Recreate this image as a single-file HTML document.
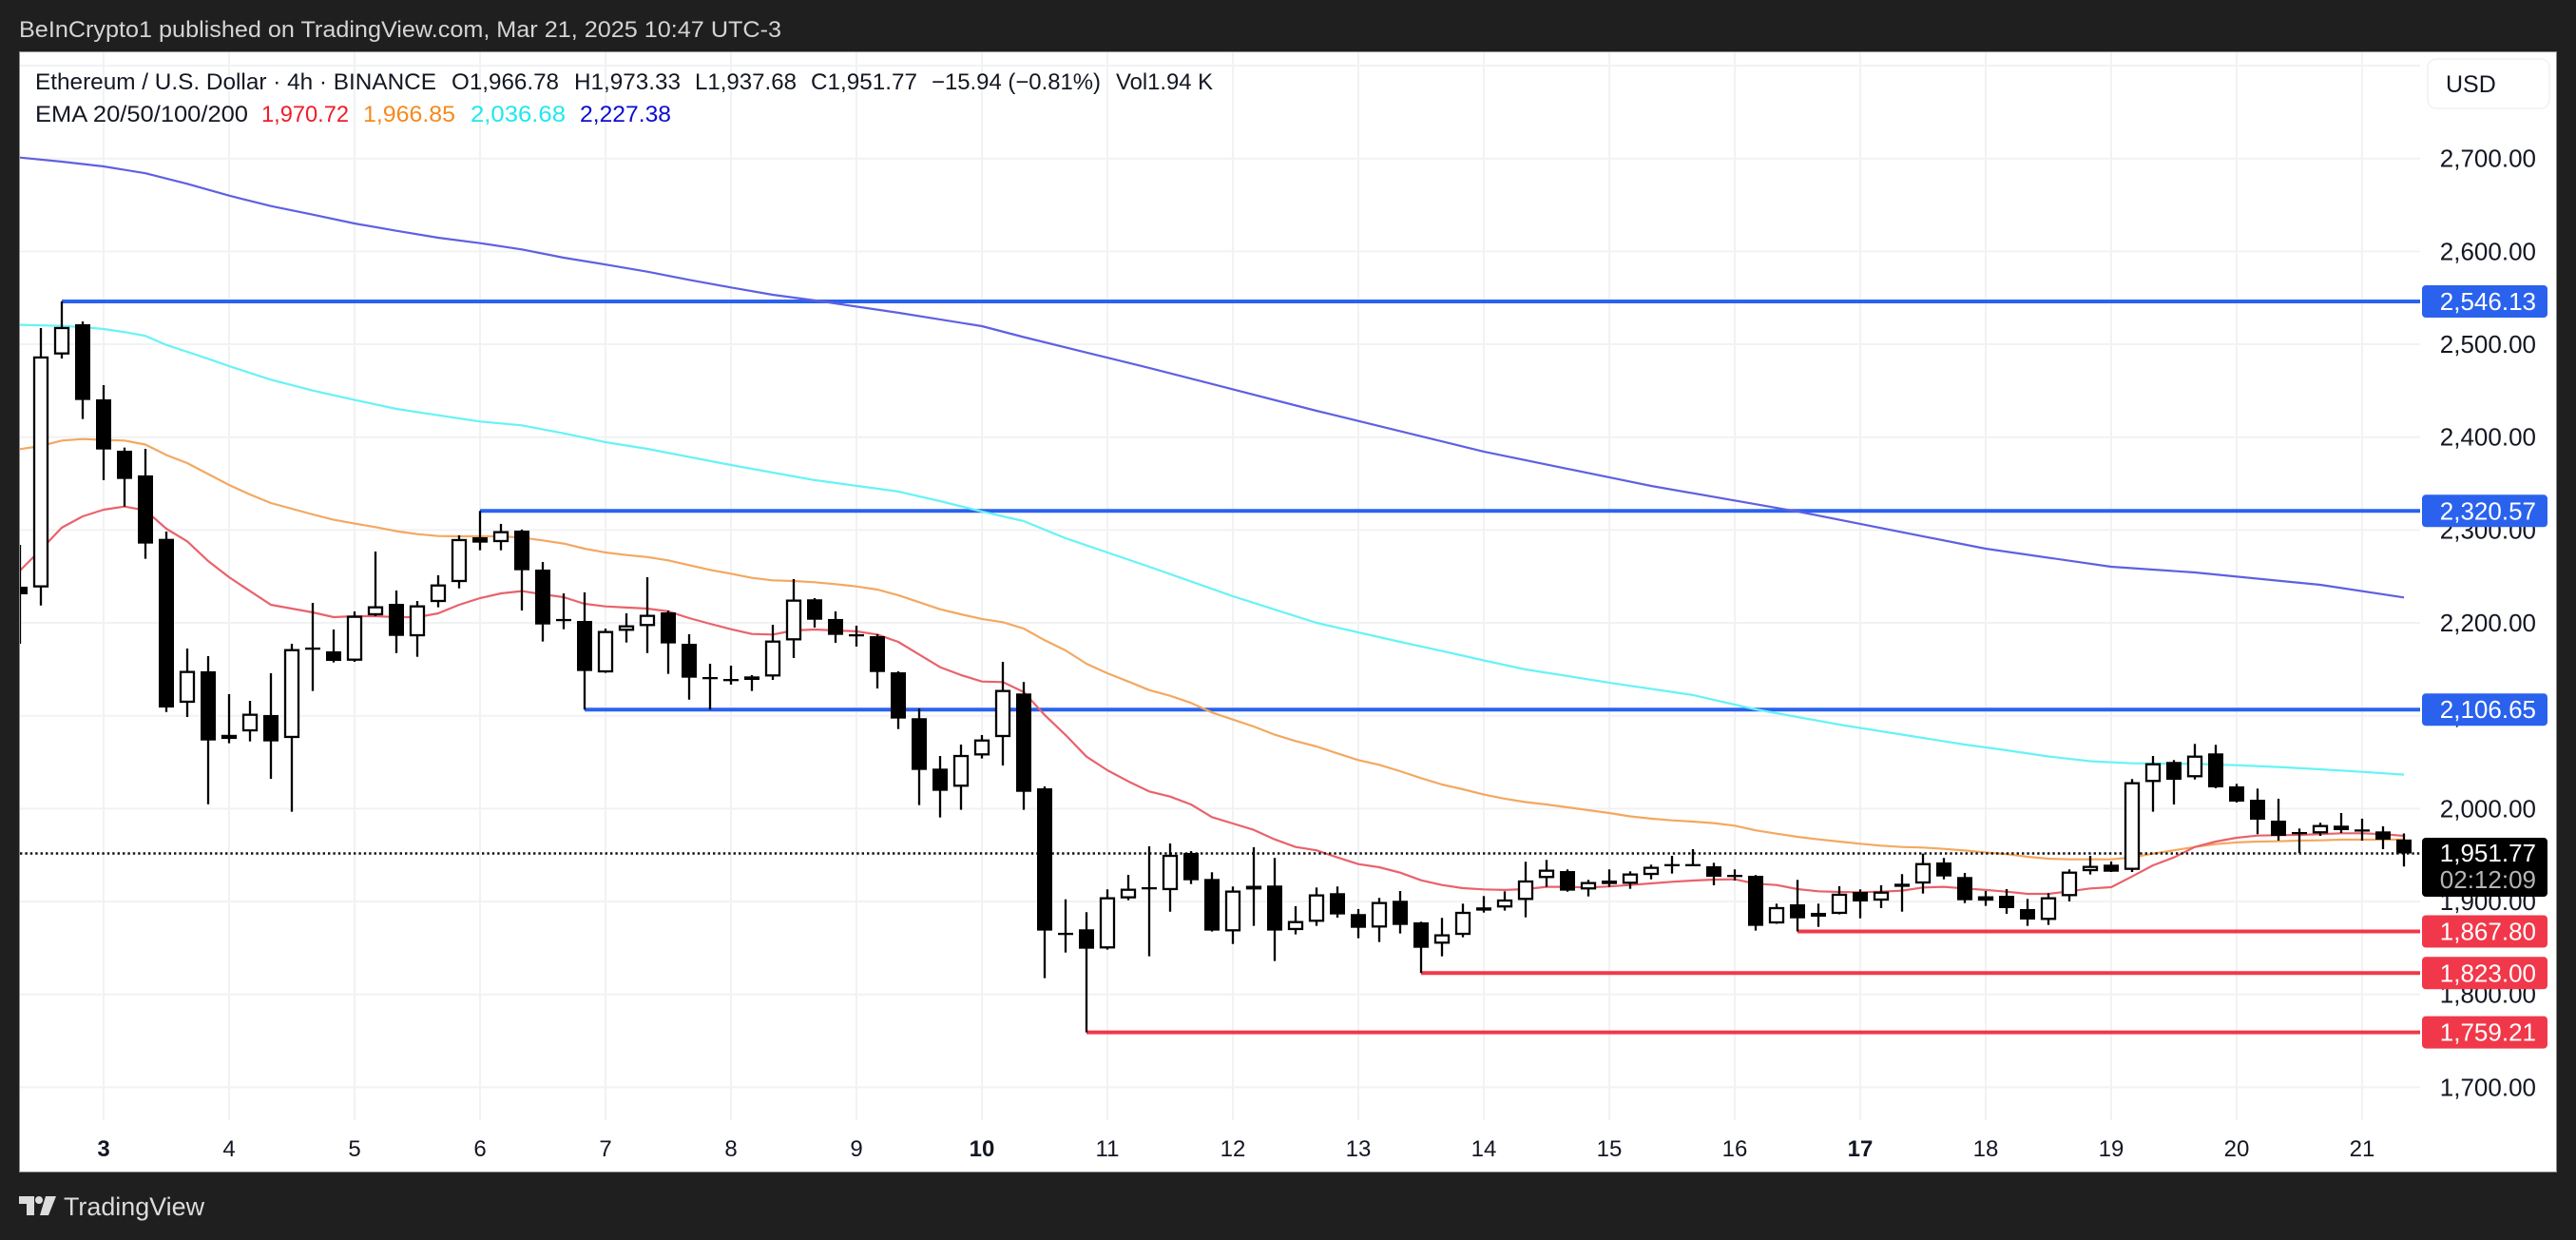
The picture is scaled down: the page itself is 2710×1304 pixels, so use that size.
<!DOCTYPE html>
<html lang="en">
<head>
<meta charset="utf-8">
<title>Ethereum / U.S. Dollar 4h chart</title>
<style>
  html,body{margin:0;padding:0;background:#1f1f1f;width:2710px;height:1304px;overflow:hidden}
  svg{display:block}
  text{font-family:"Liberation Sans",sans-serif}
</style>
</head>
<body>
<svg id="chart" xmlns="http://www.w3.org/2000/svg" width="2710" height="1304" viewBox="0 0 2710 1304">
  <defs>
    <clipPath id="plot-clip"><rect x="21" y="55" width="2525" height="1123"/></clipPath>
  </defs>
  <rect x="0" y="0" width="2710" height="1304" fill="#1f1f1f"/>
  <rect x="20.5" y="54.5" width="2669" height="1178" fill="#ffffff" stroke="#8a8a8a" stroke-width="1"/>

  <text x="20" y="39" font-size="24" fill="#d4d4d4" textLength="802" lengthAdjust="spacingAndGlyphs">BeInCrypto1 published on TradingView.com, Mar 21, 2025 10:47 UTC-3</text>

  <g id="grid"></g>
  <g id="levels"></g>
  <g id="emas" clip-path="url(#plot-clip)"></g>
  <line x1="21" x2="2546" y1="897.5" y2="897.5" stroke="#111" stroke-width="2.4" stroke-dasharray="2.4 3"/>
  <g id="candles" clip-path="url(#plot-clip)"></g>

  <g font-size="24" fill="#131722">
    <text x="37" y="94" textLength="422" lengthAdjust="spacingAndGlyphs">Ethereum / U.S. Dollar · 4h · BINANCE</text>
    <text x="475" y="94" textLength="113" lengthAdjust="spacingAndGlyphs">O1,966.78</text>
    <text x="604" y="94" textLength="112" lengthAdjust="spacingAndGlyphs">H1,973.33</text>
    <text x="731" y="94" textLength="107" lengthAdjust="spacingAndGlyphs">L1,937.68</text>
    <text x="853" y="94" textLength="112" lengthAdjust="spacingAndGlyphs">C1,951.77</text>
    <text x="980" y="94" textLength="178" lengthAdjust="spacingAndGlyphs">−15.94 (−0.81%)</text>
    <text x="1174" y="94" textLength="102" lengthAdjust="spacingAndGlyphs">Vol1.94 K</text>
    <text x="37" y="128" textLength="224" lengthAdjust="spacingAndGlyphs">EMA 20/50/100/200</text>
    <text x="275" y="128" fill="#f01c28" textLength="92" lengthAdjust="spacingAndGlyphs">1,970.72</text>
    <text x="382" y="128" fill="#f58a1f" textLength="97" lengthAdjust="spacingAndGlyphs">1,966.85</text>
    <text x="495" y="128" fill="#1fe8ee" textLength="100" lengthAdjust="spacingAndGlyphs">2,036.68</text>
    <text x="610" y="128" fill="#0c0cd0" textLength="96" lengthAdjust="spacingAndGlyphs">2,227.38</text>
  </g>

  <g id="y-axis"></g>
  <g id="x-axis"></g>
  <g id="tags"></g>

  <g>
    <rect x="2548" y="881" width="132" height="62" rx="4" fill="#000"/>
    <text x="2668" y="906" font-size="26" fill="#fff" text-anchor="end">1,951.77</text>
    <text x="2668" y="934" font-size="26" fill="#b5b5b5" text-anchor="end">02:12:09</text>
  </g>

  <g>
    <rect x="2554" y="62" width="128" height="52" rx="9" fill="#fff" stroke="#f0f1f4" stroke-width="1.5"/>
    <text x="2573" y="97" font-size="25" fill="#131722">USD</text>
  </g>

  <g fill="#dcdcdc">
    <polygon points="20,1258 36,1258 36,1278 28,1278 28,1266 20,1266"/>
    <circle cx="41" cy="1262" r="4"/>
    <polygon points="48,1258 59,1258 51,1278 42,1278"/>
    <text x="67" y="1278" font-size="27" textLength="148" lengthAdjust="spacingAndGlyphs">TradingView</text>
  </g>
</svg>

<script>
// Candle data (4h bars, left to right)
const opens = [
2239,2238.3,2489.1,2521.6,2440.7,2385.4,2358.8,2290.5,2114.1,2147.9,
2075.2,2083.3,2100.8,2076.2,2172.7,2169.4,2159.4,2208.3,2220.5,2185.7,
2222.6,2244.1,2292.2,2287.1,2299.4,2257.4,2203.3,2202.1,2146.8,2191.6,
2196.7,2211.3,2177.5,2140.8,2138.8,2142.4,2142.4,2181.3,2225.4,2204.2,
2186.9,2185.7,2146.8,2097.4,2043.1,2023.7,2057.4,2077.2,2124,2021.9,
1865.5,1870.1,1849.6,1903.5,1914.6,1912.4,1952.3,1924.3,1868,1913.1,
1917.2,1869.4,1878.3,1909,1886.5,1872.1,1900.8,1877.6,1854.7,1864.2,
1893.7,1893.7,1901.8,1925.4,1932.8,1913.1,1922.6,1919.2,1928.7,1939.5,
1939.5,1938,1927.9,1927.7,1876.5,1897,1887.8,1886.8,1910.3,1901.1,
1919.2,1919.5,1942.1,1926.4,1901.1,1906.2,1891.9,1880.3,1905.9,1932.8,
1939.7,1934.2,2028.8,2050.3,2033.9,2059.5,2024,2009.6,1987.1,1974,
1973.5,1981.7,1976.8,1975.5,1966.78];
const highs = [
2284,2517.5,2546.13,2524.6,2456,2388.8,2387.4,2298.4,2172.4,2164.2,
2123.3,2116.1,2145.8,2177.5,2221.6,2192.9,2212.4,2276.9,2234.9,2223.6,
2251.3,2294.3,2320.57,2306.6,2300.5,2265.6,2231.8,2232.8,2193.9,2210.3,
2249.2,2213.4,2187.8,2156,2154,2143.8,2198,2247.2,2226.7,2212.4,
2197,2187.8,2147.9,2107.9,2056.7,2069,2079.3,2158.1,2136.3,2024,
1902.4,1888.5,1913.1,1928.7,1959.5,1962.5,1954.3,1931.5,1916.2,1958.4,
1946.9,1895,1915.1,1916.2,1891.9,1903.9,1911.3,1878.3,1882.4,1897.7,
1905.9,1911,1942.8,1944.8,1934.6,1923.3,1934.6,1932.5,1939.7,1949.2,
1956.4,1941.7,1934.6,1928.5,1897.7,1923.3,1897.7,1916.5,1913.1,1917.5,
1929.5,1951.6,1946.9,1930.8,1911.3,1913.4,1902.8,1909,1934.6,1949.2,
1943.1,2031.9,2056.7,2052.3,2069.7,2068.7,2026.7,2021.6,2010.7,1978.6,
1984.8,1995.3,1989.2,1981,1973.33];
const lows = [
2177.5,2218.8,2484.7,2419.5,2353.7,2325.3,2269,2104.1,2098.7,2004.8,
2070.4,2072.4,2032.2,1996.7,2126.7,2157.4,2158.1,2207.2,2167.6,2163.5,
2216.8,2237.2,2278.2,2278.2,2213.4,2179.9,2193.2,2106.65,2146.2,2178.9,
2167.6,2145.1,2117.4,2106.65,2133.5,2126.7,2138.6,2162.2,2195,2178.6,
2174.5,2129.4,2085.7,2003.8,1990.5,1998.7,2054,2046.5,1998.7,1817.5,
1845.1,1759.21,1848.2,1901.4,1841,1889.1,1918.8,1867.7,1854.3,1873.8,
1835.9,1864.6,1873.8,1882.7,1860.5,1856.4,1865.6,1823,1841,1861.5,
1888.1,1890.2,1883,1915.8,1910.6,1905.5,1915.8,1913.7,1923.9,1930.1,
1939,1917.5,1922.6,1868.7,1876,1867.8,1872.7,1886.2,1881.9,1892.9,
1889.1,1908.6,1923.9,1898.3,1895.3,1886.8,1873.8,1874.8,1900.1,1929.1,
1931.8,1931.8,1996.7,2004.5,2031.4,2021.9,2006.6,1972.5,1965.6,1952.3,
1970.7,1973.8,1965.6,1956.4,1937.68];
const closes = [
2230.8,2486.8,2518.5,2440,2386.7,2355,2285.4,2108.9,2148.2,2073.4,
2079.3,2102.1,2072.4,2171.7,2172.2,2159.1,2207.6,2217.8,2186,2218.8,
2241.3,2290.2,2286.4,2298.7,2256.7,2198.3,2203.1,2148.2,2191.2,2197.3,
2208.6,2177.9,2141,2140.6,2138.4,2138.6,2180.9,2225,2203.4,2187.1,
2186.7,2147.1,2097,2041.7,2019.2,2057.7,2074.4,2127.7,2018.1,1868.7,
1865.1,1849.2,1904.5,1913.7,1914.2,1950.2,1922.9,1868.7,1911.7,1916.8,
1868.7,1878.9,1907.6,1886.1,1871.7,1899.4,1874.8,1850.2,1864.6,1888.8,
1890.2,1902.1,1922.6,1934.2,1911.7,1920.9,1918.8,1930.1,1937.3,1939.1,
1939.1,1926.7,1927.5,1873.8,1893.9,1881.9,1883.7,1908.3,1900.1,1910.6,
1915.8,1941.3,1927,1901.4,1905.5,1892.9,1880.6,1904.5,1932.1,1938.3,
1932.1,2028.4,2048.8,2031.1,2057,2022.9,2007.6,1988.1,1970.7,1973.6,
1982.3,1976.9,1976.4,1966.6,1951.77];

// EMA series sampled per candle
const ema20 = [
2256.4,2278.9,2302.5,2314.7,2321.9,2325.3,2321.2,2301.4,2287.8,2266.6,
2249.2,2234.2,2219.5,2215.4,2211.3,2206.2,2207.2,2207.2,2206.2,2206.2,
2210.3,2219.5,2226.7,2231.8,2234.2,2230.8,2227.7,2220.5,2217.8,2216.5,
2215.4,2212.4,2205.2,2199,2193.2,2188.1,2187.5,2191.9,2192.9,2191.9,
2190.9,2187.5,2179.6,2166,2152.3,2143.8,2136.9,2136.3,2125.6,2100.8,
2079.3,2056,2041.4,2029.4,2018.5,2013,2004.5,1990.9,1984,1977.2,
1966.9,1958.7,1955.1,1947.5,1940.3,1936.9,1931.1,1922.9,1917.8,1914.4,
1913.1,1912.4,1913.4,1915.8,1915.8,1915.1,1916.2,1917.8,1919.5,1921.3,
1922.6,1923.6,1923.9,1919.2,1917.8,1913.4,1911,1910.3,1910,1910.6,
1911.7,1915.1,1915.8,1914.1,1912.4,1910.6,1908.3,1908.3,1911,1914.1,
1915.4,1927,1939,1947.5,1958.7,1964.6,1968.7,1971,1971.4,1971.7,
1972.5,1973.5,1973.5,1972.5,1970.72];
const ema50 = [
2387.1,2390.5,2396.3,2398,2397,2396.3,2392,2380.8,2372.1,2360.3,
2348.5,2338.3,2329.1,2322.9,2316.8,2311,2306.9,2303.2,2298.7,2295.6,
2293.5,2293.2,2293.2,2293.2,2291.9,2288.8,2285.4,2279.9,2275.8,2273.1,
2270.9,2267.3,2262.2,2257.1,2253,2248.5,2245.8,2245.1,2243.8,2241.7,
2239.3,2235.9,2229.8,2222.3,2214.7,2209.3,2204.2,2200.8,2193.9,2181.3,
2170.4,2156,2145.8,2136.9,2127.7,2121.5,2113.8,2103.5,2095.9,2088.5,
2079.6,2072.8,2067,2059.5,2052.3,2047.2,2040.3,2032.9,2026,2020.9,
2015.1,2010.7,2007.1,2004.5,2001.4,1998.4,1995.3,1991.7,1989.2,1987.4,
1986.1,1984.4,1981.7,1976.6,1973.1,1969.7,1966.9,1964.6,1962.2,1960.2,
1958.7,1958.1,1956.7,1954.9,1952.8,1951,1948.2,1946.1,1945.4,1945.4,
1945.4,1947.5,1951.6,1955.1,1958.7,1961.8,1963.6,1964.6,1964.9,1965.6,
1965.9,1966.6,1966.6,1966.6,1966.85];

// EMA series read at selected candles
const ema100Bars = [-4,-2,-1,0,1,2,3,4,5,6,8,10,12,14,16,18,20,22,24,26,30,34,38,40,42,44,46,48,50,54,58,62,64,66,68,72,76,79,83,87,89,91,93,95,97,100,102,104,106,108,110];
const ema100 = [2520.9,2519.8,2518.5,2516.4,2513.1,2509,2499.3,2491.9,2484.4,2476.5,2461.9,2450.2,2440,2430.4,2423.6,2416.8,2412.7,2404.1,2394.6,2387.4,2370,2353.7,2341.4,2331.1,2319.9,2309.6,2291.2,2275.8,2260.5,2228.7,2200.1,2179.6,2169.7,2159.6,2149.9,2135.6,2122.3,2106.9,2090.5,2076.2,2069,2062.9,2056.2,2051.1,2048.8,2048.2,2046.8,2044.8,2042.4,2039.6,2036.68];
const ema200Bars = [-4,-2,0,2,4,6,8,10,12,14,16,18,20,22,24,26,28,30,32,34,38,42,44,50,58,66,74,81,90,96,100,106,110];
const ema200 = [2701,2696.6,2691.5,2684.1,2672.8,2660.1,2648.8,2639.6,2630.1,2622.2,2614.7,2608.9,2602.1,2593.2,2585.8,2578.2,2569.4,2561.2,2553.3,2547.2,2533.9,2519.5,2507.7,2474.5,2428.4,2384.4,2347.5,2319.9,2279.9,2260.5,2254.3,2241,2227.38];

// Axis ticks
const gridPrices = [2800,2700,2600,2500,2400,2300,2200,2100,2000,1900,1800,1700];
const priceTicks = [2700,2600,2500,2400,2300,2200,2100,2000,1900,1800,1700];
const priceTickLabels = ["2,700.00","2,600.00","2,500.00","2,400.00","2,300.00","2,200.00","2,100.00","2,000.00","1,900.00","1,800.00","1,700.00"];
const dayTicks = [3,4,5,6,7,8,9,10,11,12,13,14,15,16,17,18,19,20,21];
const dayTickLabels = ["3","4","5","6","7","8","9","10","11","12","13","14","15","16","17","18","19","20","21"];
const boldDays = [3,10,17];

// Key horizontal levels
const levelPrices = [2546.13,2320.57,2106.65,1867.80,1823.00,1759.21];
const levelLabels = ["2,546.13","2,320.57","2,106.65","1,867.80","1,823.00","1,759.21"];
const levelStartBars = [-2,18,23,81,63,47];
const levelKinds = ["resistance","resistance","resistance","support","support","support"];

// Axis functions
const FIRST_BAR = -4;
function yScale(price){ return 166.7 + (2700 - price) * 0.9767; }
function xScale(bar){ return 109 + bar * 22; }
function xOfDay(day){ return xScale((day - 3) * 6); }

const SVGNS = "http://www.w3.org/2000/svg";
function mk(parent, tag, attrs){
  const el = document.createElementNS(SVGNS, tag);
  for (const k in attrs) el.setAttribute(k, attrs[k]);
  parent.appendChild(el);
  return el;
}
const gridG = document.getElementById("grid");
const levelsG = document.getElementById("levels");
const emasG = document.getElementById("emas");
const candlesG = document.getElementById("candles");
const yAxisG = document.getElementById("y-axis");
const xAxisG = document.getElementById("x-axis");
const tagsG = document.getElementById("tags");

// Grid
gridPrices.forEach(function(p){
  const l = mk(gridG, "line", {x1:21, x2:2546, y1:yScale(p), y2:yScale(p), stroke:"#f1f2f4", "stroke-width":2});
  
  
});
dayTicks.forEach(function(d){
  const l = mk(gridG, "line", {x1:xOfDay(d), x2:xOfDay(d), y1:55, y2:1178, stroke:"#f1f2f4", "stroke-width":2});
  
  
});

// Axis labels
priceTicks.forEach(function(p, i){
  const t = mk(yAxisG, "text", {x:2668, y:yScale(p) + 9, "font-size":26, fill:"#131722", "text-anchor":"end"});
  t.textContent = priceTickLabels[i];
  
  
});
dayTicks.forEach(function(d, i){
  const t = mk(xAxisG, "text", {x:xOfDay(d), y:1216, "font-size":24, fill:"#131722", "text-anchor":"middle", "font-weight":boldDays.indexOf(d) >= 0 ? "700" : "400"});
  t.textContent = dayTickLabels[i];
  
  
});

// Levels and their tags
levelPrices.forEach(function(p, i){
  const color = levelKinds[i] === "resistance" ? "#2a62ee" : "#f0384a";
  const y = yScale(p);
  const l = mk(levelsG, "line", {x1:xScale(levelStartBars[i]), x2:2546, y1:y, y2:y, stroke:color, "stroke-width":4});
  
  
  const r = mk(tagsG, "rect", {x:2548, y:y - 17, width:132, height:34, rx:4, fill:color});
  
  
  const t = mk(tagsG, "text", {x:2668, y:y + 9, "font-size":26, fill:"#fff", "text-anchor":"end"});
  t.textContent = levelLabels[i];
  
  
});

// EMA lines
function drawLine(bars, values, color, name){
  const pts = values.map(function(v, i){ return xScale(bars[i]).toFixed(1) + "," + yScale(v).toFixed(1); }).join(" ");
  const pl = mk(emasG, "polyline", {points:pts, fill:"none", stroke:color, "stroke-width":2.2, "stroke-linejoin":"round"});
  
  
}
const perCandleBars = opens.map(function(_, i){ return i + FIRST_BAR; });
drawLine(ema200Bars, ema200, "#5f60e2", "ema-200-line");
drawLine(ema100Bars, ema100, "#66f3f6", "ema-100-line");
drawLine(perCandleBars, ema50, "#f3a860", "ema-50-line");
drawLine(perCandleBars, ema20, "#e9626b", "ema-20-line");

// Candles
opens.forEach(function(o, i){
  const c = closes[i];
  const x = xScale(i + FIRST_BAR);
  const top = yScale(Math.max(o, c));
  const bottom = yScale(Math.min(o, c));
  const bodyH = bottom - top;
  const wick = mk(candlesG, "line", {x1:x, x2:x, y1:yScale(highs[i]), y2:yScale(lows[i]), stroke:"#000", "stroke-width":2.3});
  
  
  let body;
  if (c >= o && bodyH >= 3) {
    body = mk(candlesG, "rect", {x:x - 7, y:top + 1, width:14, height:bodyH - 2, fill:"#fff", stroke:"#000", "stroke-width":2.3});
  } else {
    body = mk(candlesG, "rect", {x:x - 8, y:top - (bodyH < 2 ? (2 - bodyH) / 2 : 0), width:16, height:Math.max(bodyH, 2.3), fill:"#000"});
  }
  
  
});
</script>
</body>
</html>
